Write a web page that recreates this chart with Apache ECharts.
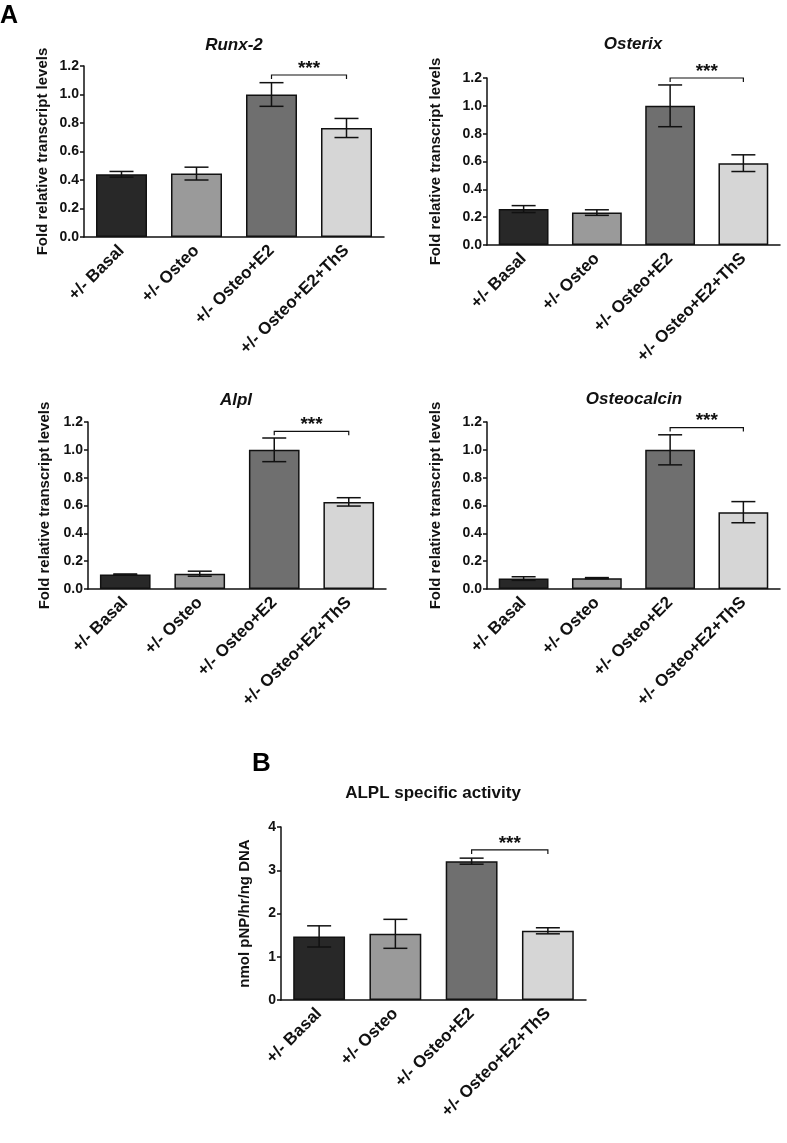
<!DOCTYPE html>
<html>
<head>
<meta charset="utf-8">
<script src="https://cdn.jsdelivr.net/npm/echarts@6/dist/echarts.min.js"></script>
<style>
html,body{margin:0;padding:0;background:#fff;}
#chart{width:787px;height:1143px;}
</style>
</head>
<body>
<div id="chart"></div>
<script>
// ---------- data ----------
const categories = ['+/- Basal', '+/- Osteo', '+/- Osteo+E2', '+/- Osteo+E2+ThS'];
const barColors = ['#282828', '#9a9a9a', '#6f6f6f', '#d6d6d6'];

const runx2Mean = [0.44, 0.445, 1.0, 0.765];
const runx2Err = [0.02, 0.045, 0.083, 0.067];

const osterixMean = [0.258, 0.233, 1.0, 0.588];
const osterixErr = [0.025, 0.02, 0.15, 0.06];

const alplMean = [0.105, 0.11, 1.0, 0.626];
const alplErr = [0.003, 0.018, 0.085, 0.03];

const osteocalcinMean = [0.075, 0.078, 1.0, 0.552];
const osteocalcinErr = [0.013, 0.004, 0.108, 0.076];

const alplActivityMean = [1.47, 1.53, 3.21, 1.60];
const alplActivityErr = [0.245, 0.335, 0.07, 0.07];

// significance brackets: [from category, to category, height]
const runx2Bracket = [2, 3, 1.137];
const osterixBracket = [2, 3, 1.2];
const alplBracket = [2, 3, 1.133];
const osteocalcinBracket = [2, 3, 1.16];
const alplActivityBracket = [2, 3, 3.47];
const sigLabel = '***';

const titles = ['Runx-2', 'Osterix', 'Alpl', 'Osteocalcin', 'ALPL specific activity'];
const yNameA = 'Fold relative transcript levels';
const yNameB = 'nmol pNP/hr/ng DNA';

// ---------- layout ----------
const FONT = '"Liberation Sans", Arial, Helvetica, sans-serif';
const panels = [
  {mean: runx2Mean, err: runx2Err, br: runx2Bracket, title: titles[0], italic: true,
   grid: {left: 84, top: 66, width: 300, height: 171}, max: 1.2, interval: 0.2, dec: 1, yName: yNameA, nameGap: 34, titleX: 234, titleY: 37},
  {mean: osterixMean, err: osterixErr, br: osterixBracket, title: titles[1], italic: true,
   grid: {left: 487, top: 78, width: 293, height: 167}, max: 1.2, interval: 0.2, dec: 1, yName: yNameA, nameGap: 44, titleX: 633, titleY: 36},
  {mean: alplMean, err: alplErr, br: alplBracket, title: titles[2], italic: true,
   grid: {left: 88, top: 422, width: 298, height: 167}, max: 1.2, interval: 0.2, dec: 1, yName: yNameA, nameGap: 36, titleX: 236, titleY: 392},
  {mean: osteocalcinMean, err: osteocalcinErr, br: osteocalcinBracket, title: titles[3], italic: true,
   grid: {left: 487, top: 422, width: 293, height: 167}, max: 1.2, interval: 0.2, dec: 1, yName: yNameA, nameGap: 44, titleX: 634, titleY: 391},
  {mean: alplActivityMean, err: alplActivityErr, br: alplActivityBracket, title: titles[4], italic: false,
   grid: {left: 281, top: 827, width: 305, height: 173}, max: 4, interval: 1, dec: 0, yName: yNameB, nameGap: 29, titleX: 433, titleY: 785}
];

const grids = [], xAxes = [], yAxes = [], series = [], titleComps = [];

function errRender(params, api) {
  const x = api.value(0), m = api.value(1), e = api.value(2);
  const t = api.coord([x, m + e]);
  const b = api.coord([x, m - e]);
  const hw = 12;
  const st = {stroke: '#111', lineWidth: 1.5};
  return {type: 'group', children: [
    {type: 'line', shape: {x1: t[0], y1: t[1], x2: b[0], y2: b[1]}, style: st},
    {type: 'line', shape: {x1: t[0] - hw, y1: t[1], x2: t[0] + hw, y2: t[1]}, style: st},
    {type: 'line', shape: {x1: b[0] - hw, y1: b[1], x2: b[0] + hw, y2: b[1]}, style: st}
  ]};
}

function bracketRender(params, api) {
  const a = api.coord([api.value(0), api.value(2)]);
  const c = api.coord([api.value(1), api.value(2)]);
  const st = {stroke: '#111', lineWidth: 1.2, fill: null};
  return {type: 'group', children: [
    {type: 'polyline', shape: {points: [[a[0], a[1] + 4], [a[0], a[1]], [c[0], c[1]], [c[0], c[1] + 4]]}, style: st},
    {type: 'text', style: {text: sigLabel, x: (a[0] + c[0]) / 2, y: a[1] + 3,
      textAlign: 'center', textVerticalAlign: 'bottom', font: 'bold 19px ' + FONT, fill: '#111'}}
  ]};
}

panels.forEach((p, i) => {
  grids.push(Object.assign({containLabel: false}, p.grid));
  xAxes.push({
    type: 'category', gridIndex: i, data: categories,
    axisLine: {lineStyle: {color: '#111', width: 1.5}},
    axisTick: {alignWithLabel: true, length: 4, lineStyle: {color: '#111', width: 1.5}},
    axisLabel: {rotate: 45, interval: 0, margin: 11, color: '#111', fontSize: 17, fontWeight: 'bold', fontFamily: FONT}
  });
  yAxes.push({
    type: 'value', gridIndex: i, min: 0, max: p.max, interval: p.interval,
    name: p.yName, nameLocation: 'middle', nameGap: p.nameGap, nameRotate: 90,
    nameTextStyle: {fontSize: 15, fontWeight: 'bold', color: '#111', fontFamily: FONT},
    axisLine: {show: true, lineStyle: {color: '#111', width: 1.5}},
    axisTick: {show: true, length: 4, lineStyle: {color: '#111', width: 1.5}},
    splitLine: {show: false},
    axisLabel: {margin: 5, color: '#111', fontSize: 14, fontWeight: 'bold', fontFamily: FONT,
      formatter: v => v.toFixed(p.dec)}
  });
  series.push({
    type: 'bar', xAxisIndex: i, yAxisIndex: i, barWidth: '68%',
    data: p.mean.map((v, k) => ({value: v, itemStyle: {color: barColors[k]}})),
    itemStyle: {borderColor: '#111', borderWidth: 1.5},
    z: 2
  });
  series.push({
    type: 'custom', xAxisIndex: i, yAxisIndex: i, clip: false, z: 5,
    renderItem: errRender,
    encode: {x: 0, y: 1},
    data: p.mean.map((v, k) => [k, v, p.err[k]])
  });
  series.push({
    type: 'custom', xAxisIndex: i, yAxisIndex: i, clip: false, z: 5,
    renderItem: bracketRender,
    encode: {x: [0, 1], y: 2},
    data: [p.br]
  });
  titleComps.push({
    text: p.title, left: p.titleX, top: p.titleY, textAlign: 'center', padding: 0,
    textStyle: {fontSize: 17, fontWeight: 'bold', fontStyle: p.italic ? 'italic' : 'normal', color: '#111', fontFamily: FONT}
  });
});

titleComps.push({text: 'A', left: 0, top: 4, padding: 0,
  textStyle: {fontSize: 25, fontWeight: 'bold', color: '#000', fontFamily: FONT}});
titleComps.push({text: 'B', left: 252, top: 751, padding: 0,
  textStyle: {fontSize: 26, fontWeight: 'bold', color: '#000', fontFamily: FONT}});

const chart = echarts.init(document.getElementById('chart'), null, {renderer: 'canvas'});
chart.setOption({
  backgroundColor: '#ffffff',
  animation: false,
  textStyle: {fontFamily: FONT},
  title: titleComps,
  grid: grids,
  xAxis: xAxes,
  yAxis: yAxes,
  series: series
});
</script>
</body>
</html>
